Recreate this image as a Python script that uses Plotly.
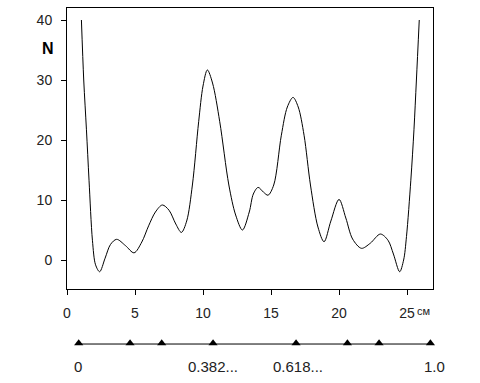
import plotly.graph_objects as go

# Curve N(x), x in cm
curve_x = [1.06, 1.23, 1.43, 1.62, 1.87, 2.1, 2.4, 2.8, 3.2, 3.65, 4.3, 4.93, 5.5, 6.0, 6.5,
           7.01, 7.5, 8.0, 8.41, 8.8, 9.22, 9.68, 10.0, 10.32, 10.7, 11.23, 11.9, 12.4, 12.9,
           13.4, 13.7, 14.05, 14.45, 14.78, 15.2, 15.76, 16.2, 16.62, 17.0, 17.43, 17.9, 18.45,
           18.9, 19.4, 20.0, 20.5, 21.0, 21.65, 22.3, 23.04, 23.6, 24.0, 24.46, 24.75, 24.96,
           25.28, 25.51, 25.69, 25.9]
curve_y = [40, 30, 21.7, 13.3, 3.3, -0.8, -1.95, 0.3, 2.6, 3.45, 2.4, 1.2, 3.0, 5.7, 8.0,
           9.17, 8.3, 6.0, 4.6, 6.5, 12.5, 23.05, 29, 31.67, 29.5, 23.05, 12.5, 7.5, 5.0,
           8.0, 11, 12.1, 11.3, 10.8, 12.5, 20.8, 25.5, 27.1, 25.5, 20.8, 12.5, 5.5,
           3.05, 6.5, 10.1, 7.0, 3.5, 1.95, 2.8, 4.33, 3.3, 1.0, -1.95, 0.0, 3.9,
           13.3, 21.7, 30, 40]

x_ticks = [0, 5, 10, 15, 20, 25]
y_ticks = [0, 10, 20, 30, 40]

# Lower scale (golden section points)
scale_start = 0.86
scale_end = 26.72
scale_fracs = [0, 0.146, 0.236, 0.382, 0.618, 0.764, 0.854, 1.0]
label_fracs = [0, 0.382, 0.618, 1.0]
label_texts = ["0", "0.382...", "0.618...", "1.0"]
label_shift = [-1, 0, 2, 4]

scale_len = scale_end - scale_start
mark_x = [scale_start + f * scale_len for f in scale_fracs]
lab_x = [scale_start + f * scale_len for f in label_fracs]

FONT = "Liberation Sans, Arial, sans-serif"
TXT = "#222"
H = 370.0

fig = go.Figure()
fig.add_trace(go.Scatter(x=curve_x, y=curve_y, mode="lines",
                         line=dict(color="black", width=1, shape="spline", smoothing=0.9),
                         xaxis="x", yaxis="y", hoverinfo="skip"))
fig.add_trace(go.Scatter(x=[scale_start, scale_end], y=[0.459, 0.459], mode="lines",
                         line=dict(color="black", width=1), xaxis="x", yaxis="y2",
                         hoverinfo="skip", cliponaxis=False))
fig.add_trace(go.Scatter(x=mark_x, y=[0.47] * len(mark_x), mode="markers",
                         marker=dict(symbol="triangle-up", size=8, color="black"),
                         xaxis="x", yaxis="y2", hoverinfo="skip", cliponaxis=False))

annotations = [
    dict(text="<b>N</b>", xref="paper", yref="y", x=-0.052, y=35.3,
         showarrow=False, font=dict(size=16, color="black", family=FONT),
         xanchor="center", yanchor="middle"),
    dict(text="см", xref="x", yref="paper", x=25.55, y=(378 - 311) / H,
         showarrow=False, font=dict(size=11, color=TXT, family=FONT),
         xanchor="left", yanchor="middle"),
]
for lx, lt, sh in zip(lab_x, label_texts, label_shift):
    annotations.append(dict(text=lt, xref="x", yref="paper", x=lx, y=(378 - 366) / H,
                            showarrow=False, xshift=sh,
                            font=dict(size=15, color=TXT, family=FONT),
                            xanchor="center", yanchor="middle"))

fig.update_layout(
    width=480, height=383,
    margin=dict(l=67, r=47, t=8, b=5),
    paper_bgcolor="white", plot_bgcolor="white",
    showlegend=False,
    font=dict(family=FONT, size=14, color=TXT),
    xaxis=dict(range=[0, 26.91], tickvals=x_ticks, showgrid=False, zeroline=False,
               showline=True, linecolor="black", linewidth=1, mirror=True,
               ticks="outside", ticklen=5, tickcolor="black", anchor="y",
               tickfont=dict(size=14, color=TXT), ticklabelstandoff=6),
    yaxis=dict(range=[-4.83, 42.0], tickvals=y_ticks, showgrid=False, zeroline=False,
               showline=True, linecolor="black", linewidth=1, mirror=True,
               ticks="outside", ticklen=5, tickcolor="black",
               domain=[(378 - 289) / H, 1],
               tickfont=dict(size=14, color=TXT), ticklabelstandoff=6),
    yaxis2=dict(range=[0, 1], domain=[0, 0.2], visible=False, anchor="x"),
    annotations=annotations,
)

fig.write_html("out.html")
